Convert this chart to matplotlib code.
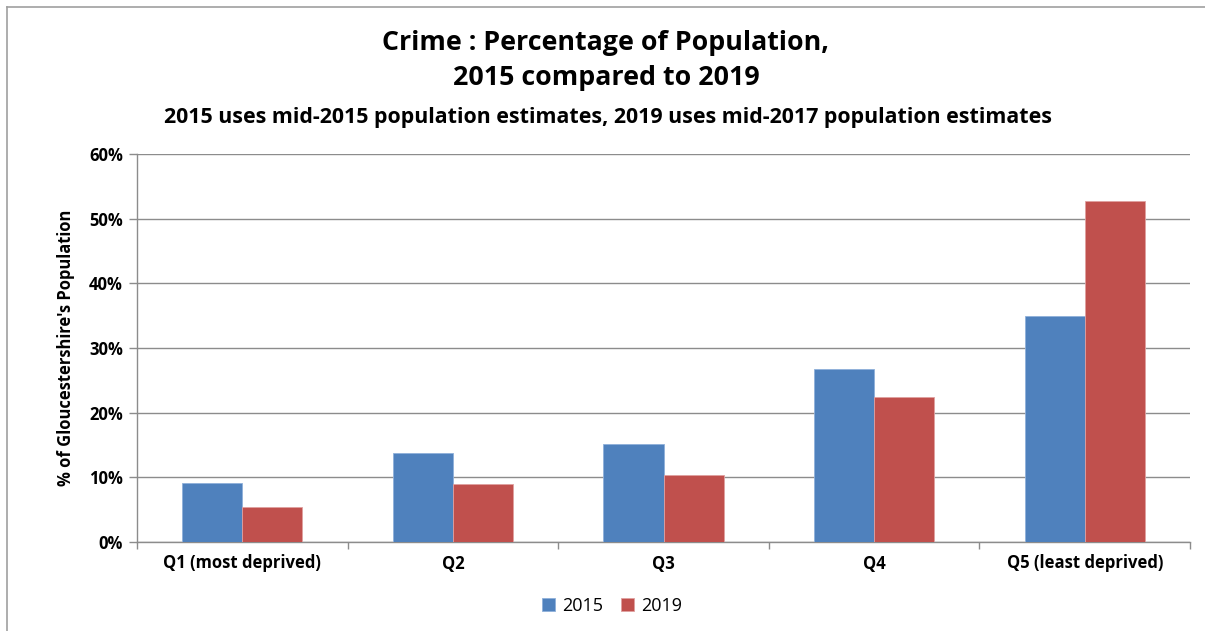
import matplotlib
matplotlib.use("Agg")
import matplotlib.pyplot as plt
import numpy as np
from matplotlib.lines import Line2D
from matplotlib.ticker import FuncFormatter, MultipleLocator

categories = ["Q1 (most deprived)", "Q2", "Q3", "Q4", "Q5 (least deprived)"]
series_names = ["2015", "2019"]
values_2015 = [9.2, 13.8, 15.2, 26.7, 35.0]
values_2019 = [5.4, 9.0, 10.4, 22.4, 52.7]
colors = ["#4F81BD", "#C0504D"]

plt.rcParams['font.family'] = ['Open Sans', 'DejaVu Sans']

W, H = 1205, 631
fig = plt.figure(figsize=(W / 100, H / 100), dpi=100)

# chart border (left and top visible)
fig.lines.append(Line2D([7.5 / W, 7.5 / W], [0, 1 - 6.5 / H], transform=fig.transFigure,
                        color="#A0A0A0", linewidth=1.2))
fig.lines.append(Line2D([7.5 / W, 1], [1 - 6.5 / H, 1 - 6.5 / H], transform=fig.transFigure,
                        color="#A0A0A0", linewidth=1.2))

left, right, top, bottom = 137, 1190, 154, 542
ax = fig.add_axes([left / W, 1 - bottom / H, (right - left) / W, (bottom - top) / H])

x = np.arange(len(categories))
bw = 0.285
ax.bar(x - bw / 2, values_2015, bw, color=colors[0], edgecolor="#8FB0DA", linewidth=0.6,
       label=series_names[0], zorder=3)
ax.bar(x + bw / 2, values_2019, bw, color=colors[1], edgecolor="#E0A0A0", linewidth=0.6,
       label=series_names[1], zorder=3)

ax.set_xlim(-0.5, len(categories) - 0.5)
ax.set_ylim(0, 60)
ax.yaxis.set_major_locator(MultipleLocator(10))
ax.yaxis.set_major_formatter(FuncFormatter(lambda v, p: f"{v:.0f}%"))
ax.grid(axis="y", color="#8C8C8C", linewidth=1.0, zorder=0)
ax.set_axisbelow(True)

ax.set_xticks(x)
ax.set_xticklabels(categories, fontsize=12, fontweight="bold")
ax.tick_params(axis="x", length=0, pad=9)
ax.set_xticks(np.arange(len(categories) + 1) - 0.5, minor=True)
ax.tick_params(axis="x", which="minor", length=5, color="#8C8C8C", width=1)
ax.tick_params(axis="y", length=6, color="#8C8C8C", width=1, labelsize=12, pad=4)
for lbl in ax.get_yticklabels():
    lbl.set_fontweight("bold")

for s in ["top", "right"]:
    ax.spines[s].set_visible(False)
for s in ["left", "bottom"]:
    ax.spines[s].set_color("#8C8C8C")
    ax.spines[s].set_linewidth(1.0)

ax.set_ylabel("% of Gloucestershire's Population", fontsize=11.9, fontweight="bold", labelpad=10)

fig.text(606 / W, 1 - 43 / H, "Crime : Percentage of Population,", ha="center", va="center",
         fontsize=19.3, fontweight="bold")
fig.text(606 / W, 1 - 78 / H, "2015 compared to 2019", ha="center", va="center",
         fontsize=19.3, fontweight="bold")
fig.text(608 / W, 1 - 117 / H,
         "2015 uses mid-2015 population estimates, 2019 uses mid-2017 population estimates",
         ha="center", va="center", fontsize=15.4, fontweight="bold")

fig.legend(loc="center", bbox_to_anchor=(612 / W, 1 - 606 / H), ncol=2, frameon=False,
           fontsize=13, handlelength=0.7, handleheight=0.7, handletextpad=0.4,
           columnspacing=1.0)

fig.savefig("out.png", dpi=100)
